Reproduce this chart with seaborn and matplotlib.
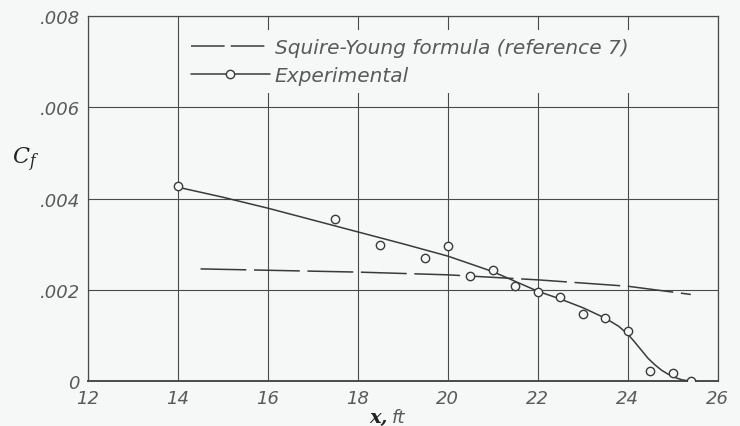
import matplotlib
matplotlib.use("Agg")
import matplotlib.pyplot as plt
import numpy as np
import pandas as pd
import seaborn as sns
from matplotlib.lines import Line2D

# experimental points (x in ft, Cf)
exp_x = [14, 17.5, 18.5, 19.5, 20, 20.5, 21, 21.5, 22, 22.5, 23, 23.5, 24, 24.5, 25, 25.4]
exp_cf = [0.00427, 0.00356, 0.00299, 0.00270, 0.00297, 0.00230, 0.00243, 0.00208,
          0.00196, 0.00184, 0.00147, 0.00138, 0.00110, 0.00022, 0.00017, 0.00000]

# faired curve through experimental points
fair_x = [14, 15, 16, 17, 18, 19, 20, 21, 22, 22.5, 23, 23.5, 23.8, 24, 24.15, 24.3, 24.45,
          24.6, 24.75, 24.9, 25.05, 25.2, 25.4]
fair_cf = [0.00425, 0.00403, 0.00379, 0.00353, 0.00327, 0.00301, 0.00274, 0.00240, 0.00197,
           0.00180, 0.00161, 0.00138, 0.00120, 0.00103, 0.00086, 0.00068, 0.00050,
           0.00036, 0.00024, 0.00015, 0.00008, 0.00003, 0.00000]

# Squire-Young formula
sy_x = [14.5, 16, 18, 20, 22, 24, 25.4]
sy_cf = [0.00246, 0.00243, 0.00239, 0.00233, 0.00222, 0.00208, 0.00190]

x_ticks = [12, 14, 16, 18, 20, 22, 24, 26]
y_ticks = [0, 0.002, 0.004, 0.006, 0.008]
y_labels = ["0", ".002", ".004", ".006", ".008"]

BG = "#f6f7f7"
INK = "#3a3a3a"

sns.set_theme(style="white")
plt.rcParams["font.family"] = ["DejaVu Sans"]
plt.rcParams["mathtext.fontset"] = "dejavuserif"

fig = plt.figure(figsize=(7.4, 4.27), dpi=100, facecolor=BG)
ax = fig.add_axes([0.119, 0.105, 0.851, 0.855])
ax.set_facecolor(BG)

fair = pd.DataFrame({"x": fair_x, "cf": fair_cf})
sy = pd.DataFrame({"x": sy_x, "cf": sy_cf})
exp = pd.DataFrame({"x": exp_x, "cf": exp_cf})

sns.lineplot(data=fair, x="x", y="cf", ax=ax, color=INK, lw=1.1, sort=False, zorder=3)
sns.lineplot(data=sy, x="x", y="cf", ax=ax, color=INK, lw=1.1, sort=False, zorder=3)
ax.lines[-1].set_dashes([30, 5])
sns.scatterplot(data=exp, x="x", y="cf", ax=ax, marker="o", s=36, facecolor=BG,
                edgecolor=INK, linewidth=1.0, zorder=4)

ax.set_xlim(12, 26)
ax.set_ylim(0, 0.008)
ax.set_xticks(x_ticks)
ax.set_yticks(y_ticks)
ax.set_xticklabels([str(t) for t in x_ticks])
ax.set_yticklabels(y_labels)
ax.grid(True, color="#4a4a4a", lw=0.8)
ax.set_axisbelow(True)
for side, sp in ax.spines.items():
    sp.set_color("#4a4a4a")
    sp.set_linewidth(0.9)
ax.spines["bottom"].set_linewidth(1.4)
ax.tick_params(length=0, pad=6, colors="#555555")
for lab in ax.get_xticklabels() + ax.get_yticklabels():
    lab.set_fontstyle("italic")
    lab.set_fontsize(13)
    lab.set_color("#5a5a5a")

ax.set_xlabel("")
ax.set_ylabel("")
fig.text(0.035, 0.625, r"$\mathit{C_f}$", fontsize=16, color="#222222", ha="center", va="center")
fig.text(0.524, 0.022, "x,", fontsize=14, family="DejaVu Serif", style="italic",
         weight="bold", color="#222222", ha="right", va="center")
fig.text(0.530, 0.022, "ft", fontsize=13, style="italic",
         color="#5a5a5a", ha="left", va="center")

handles = [
    Line2D([], [], color=INK, lw=1.1, dashes=[22, 4]),
    Line2D([], [], color=INK, lw=1.1, marker="o", markersize=6, markerfacecolor=BG,
           markeredgecolor=INK),
]
leg = ax.legend(handles, ["Squire-Young formula (reference 7)", "Experimental"],
                loc="upper left", bbox_to_anchor=(0.135, 0.99), frameon=True,
                handlelength=3.9, handletextpad=0.25, labelspacing=0.45,
                prop={"style": "italic", "size": 14.5})
leg.get_frame().set_facecolor(BG)
leg.get_frame().set_edgecolor("none")
leg.get_frame().set_alpha(1)
for t in leg.get_texts():
    t.set_color("#5a5a5a")

fig.savefig("out.png", dpi=100, facecolor=BG)
